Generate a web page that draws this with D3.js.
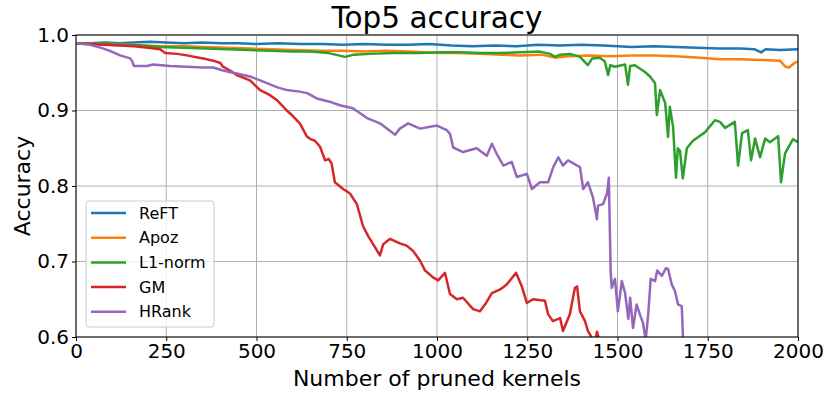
<!DOCTYPE html>
<html>
<head>
<meta charset="utf-8">
<script src="https://cdn.jsdelivr.net/npm/d3@7"></script>
<style>
  html, body { margin: 0; padding: 0; background: #fff; }
  svg { display: block; font-family: "DejaVu Sans", sans-serif; }
</style>
</head>
<body>
<div id="chart"></div>
<script>
// values: [pruned kernels, top5 accuracy]
const reft = [[0,0.989],[40,0.989],[80,0.990],[120,0.989],[160,0.990],[205,0.991],[250,0.990],[300,0.989],[350,0.990],[400,0.989],[450,0.989],[500,0.988],[560,0.989],[620,0.988],[680,0.988],[740,0.987],[800,0.988],[860,0.987],[920,0.987],[980,0.988],[1040,0.986],[1100,0.985],[1160,0.986],[1220,0.985],[1280,0.987],[1340,0.986],[1400,0.987],[1460,0.986],[1500,0.985],[1540,0.984],[1600,0.985],[1660,0.984],[1720,0.983],[1780,0.982],[1840,0.982],[1880,0.981],[1898,0.977],[1910,0.981],[1950,0.980],[2000,0.981]];

const apoz = [[0,0.989],[50,0.988],[100,0.988],[150,0.987],[233,0.985],[300,0.985],[360,0.984],[420,0.983],[482,0.982],[540,0.981],[600,0.980],[676,0.979],[740,0.979],[800,0.978],[860,0.979],[920,0.978],[1008,0.976],[1060,0.976],[1119,0.975],[1180,0.974],[1230,0.973],[1290,0.974],[1327,0.970],[1360,0.972],[1420,0.973],[1480,0.972],[1540,0.973],[1600,0.973],[1660,0.972],[1729,0.970],[1784,0.968],[1840,0.968],[1900,0.967],[1950,0.966],[1965,0.958],[1975,0.957],[1990,0.963],[2000,0.965]];

const l1norm = [[0,0.989],[60,0.988],[120,0.987],[180,0.986],[233,0.984],[300,0.983],[360,0.982],[420,0.981],[482,0.980],[540,0.979],[600,0.978],[648,0.978],[700,0.976],[745,0.971],[770,0.974],[814,0.975],[880,0.976],[953,0.976],[1010,0.977],[1064,0.977],[1120,0.976],[1175,0.976],[1230,0.977],[1285,0.978],[1313,0.975],[1327,0.971],[1341,0.974],[1368,0.975],[1396,0.971],[1418,0.960],[1430,0.969],[1451,0.970],[1465,0.965],[1474,0.947],[1480,0.960],[1493,0.958],[1521,0.961],[1529,0.934],[1535,0.959],[1548,0.960],[1576,0.951],[1590,0.945],[1604,0.936],[1609,0.894],[1618,0.927],[1632,0.910],[1640,0.865],[1645,0.905],[1654,0.878],[1662,0.811],[1667,0.850],[1673,0.847],[1681,0.810],[1692,0.850],[1709,0.860],[1742,0.871],[1770,0.887],[1784,0.885],[1798,0.877],[1825,0.885],[1834,0.827],[1845,0.870],[1861,0.874],[1870,0.834],[1881,0.863],[1895,0.838],[1909,0.863],[1922,0.858],[1945,0.866],[1953,0.805],[1964,0.843],[1986,0.862],[2000,0.858]];

const gm = [[0,0.989],[40,0.988],[75,0.987],[120,0.986],[160,0.985],[200,0.983],[233,0.981],[247,0.976],[280,0.975],[307,0.973],[352,0.969],[380,0.966],[400,0.963],[407,0.958],[430,0.952],[445,0.947],[482,0.940],[510,0.927],[535,0.921],[556,0.914],[584,0.900],[600,0.893],[620,0.883],[639,0.866],[650,0.862],[662,0.860],[676,0.852],[690,0.834],[700,0.836],[708,0.830],[717,0.805],[740,0.796],[759,0.790],[778,0.776],[795,0.747],[809,0.734],[823,0.723],[842,0.708],[851,0.723],[870,0.730],[897,0.724],[916,0.721],[934,0.714],[953,0.701],[967,0.688],[989,0.679],[1003,0.675],[1022,0.685],[1036,0.657],[1055,0.650],[1072,0.652],[1100,0.637],[1119,0.634],[1133,0.643],[1152,0.658],[1175,0.663],[1194,0.670],[1219,0.685],[1235,0.667],[1249,0.645],[1266,0.650],[1299,0.648],[1308,0.630],[1321,0.621],[1341,0.625],[1349,0.608],[1368,0.630],[1382,0.665],[1388,0.667],[1396,0.634],[1410,0.621],[1418,0.608],[1429,0.599],[1437,0.590],[1443,0.607],[1460,0.580]];

const hrank = [[0,0.989],[39,0.987],[70,0.983],[94,0.979],[122,0.973],[150,0.969],[155,0.966],[160,0.959],[197,0.959],[213,0.961],[260,0.959],[307,0.958],[352,0.957],[380,0.957],[407,0.953],[445,0.949],[482,0.945],[510,0.940],[556,0.931],[584,0.927],[620,0.925],[640,0.923],[667,0.916],[700,0.912],[731,0.907],[767,0.903],[806,0.890],[842,0.883],[884,0.868],[897,0.876],[920,0.883],[953,0.876],[1000,0.880],[1027,0.874],[1036,0.869],[1045,0.851],[1072,0.845],[1110,0.850],[1138,0.840],[1152,0.856],[1165,0.843],[1184,0.827],[1207,0.832],[1221,0.812],[1249,0.816],[1263,0.796],[1285,0.805],[1308,0.805],[1322,0.825],[1336,0.838],[1349,0.827],[1363,0.834],[1396,0.825],[1405,0.796],[1418,0.805],[1432,0.785],[1443,0.756],[1446,0.774],[1460,0.776],[1471,0.790],[1476,0.811],[1481,0.688],[1484,0.665],[1493,0.677],[1501,0.634],[1512,0.674],[1521,0.658],[1530,0.624],[1535,0.652],[1543,0.612],[1553,0.643],[1562,0.630],[1571,0.618],[1578,0.595],[1585,0.630],[1592,0.677],[1604,0.674],[1610,0.688],[1623,0.681],[1634,0.691],[1640,0.690],[1650,0.670],[1659,0.661],[1668,0.643],[1678,0.641],[1683,0.580]];

const seriesNames = ['ReFT', 'Apoz', 'L1-norm', 'GM', 'HRank'];
const seriesData = [reft, apoz, l1norm, gm, hrank];
const seriesColors = ['#1f77b4', '#ff7f0e', '#2ca02c', '#d62728', '#9467bd'];
const xTicks = [0, 250, 500, 750, 1000, 1250, 1500, 1750, 2000];
const yTicks = [0.6, 0.7, 0.8, 0.9, 1.0];

const W = 829, H = 394;
const margin = { top: 35, right: 31, bottom: 57, left: 76 };
const width = W - margin.left - margin.right;
const height = H - margin.top - margin.bottom;

const svg = d3.select('#chart').append('svg')
    .attr('width', W)
    .attr('height', H);

const g = svg.append('g')
    .attr('transform', `translate(${margin.left},${margin.top})`);

const x = d3.scaleLinear().domain([0, 2000]).range([0, width]);
const y = d3.scaleLinear().domain([0.6, 1.0]).range([height, 0]);

// grid
g.append('g')
    .selectAll('line.vx')
    .data(xTicks)
    .enter().append('line')
    .attr('x1', d => x(d)).attr('x2', d => x(d))
    .attr('y1', 0).attr('y2', height)
    .attr('stroke', '#b0b0b0').attr('stroke-width', 1);

g.append('g')
    .selectAll('line.hy')
    .data(yTicks)
    .enter().append('line')
    .attr('x1', 0).attr('x2', width)
    .attr('y1', d => y(d)).attr('y2', d => y(d))
    .attr('stroke', '#b0b0b0').attr('stroke-width', 1);

svg.append('defs').append('clipPath')
    .attr('id', 'plot-clip')
    .append('rect')
    .attr('width', width).attr('height', height);

const line = d3.line()
    .x(d => x(d[0]))
    .y(d => y(d[1]));

const lines = g.append('g').attr('clip-path', 'url(#plot-clip)');
seriesData.forEach((pts, i) => {
    lines.append('path')
        .datum(pts)
        .attr('fill', 'none')
        .attr('stroke', seriesColors[i])
        .attr('stroke-width', 2.5)
        .attr('stroke-linejoin', 'round')
        .attr('d', line);
});

// axes
const xAxis = g.append('g')
    .attr('transform', `translate(0,${height})`)
    .call(d3.axisBottom(x).tickValues(xTicks).tickSize(4).tickPadding(3).tickFormat(d3.format('d')));

const yAxis = g.append('g')
    .call(d3.axisLeft(y).tickValues(yTicks).tickSize(4).tickPadding(3).tickFormat(d3.format('.1f')));

[xAxis, yAxis].forEach(a => {
    a.select('.domain').remove();
    a.selectAll('text')
        .style('font-family', '"DejaVu Sans", sans-serif')
        .style('font-size', '20px')
        .attr('fill', '#000');
    a.selectAll('line').attr('stroke', '#000');
});

// frame
g.append('rect')
    .attr('width', width).attr('height', height)
    .attr('fill', 'none')
    .attr('stroke', '#000')
    .attr('stroke-width', 1);

// labels
svg.append('text')
    .attr('x', margin.left + width / 2)
    .attr('y', 28)
    .attr('text-anchor', 'middle')
    .style('font-size', '29.5px')
    .text('Top5 accuracy');

svg.append('text')
    .attr('x', margin.left + width / 2)
    .attr('y', 386)
    .attr('text-anchor', 'middle')
    .style('font-size', '22px')
    .text('Number of pruned kernels');

svg.append('text')
    .attr('transform', `translate(30,${margin.top + height / 2}) rotate(-90)`)
    .attr('text-anchor', 'middle')
    .style('font-size', '22px')
    .text('Accuracy');

// legend
const legend = g.append('g')
    .attr('transform', 'translate(10,166)');

legend.append('rect')
    .attr('width', 128).attr('height', 126)
    .attr('rx', 3)
    .attr('fill', 'rgba(255,255,255,0.8)')
    .attr('stroke', '#cccccc')
    .attr('stroke-width', 1);

seriesNames.forEach((name, i) => {
    const row = legend.append('g')
        .attr('transform', `translate(0,${12 + i * 24.7})`);
    row.append('line')
        .attr('x1', 5).attr('x2', 40)
        .attr('stroke', seriesColors[i])
        .attr('stroke-width', 2.5);
    row.append('text')
        .attr('x', 53)
        .attr('dy', '0.35em')
        .style('font-size', '16px')
        .text(name);
});
</script>
</body>
</html>
